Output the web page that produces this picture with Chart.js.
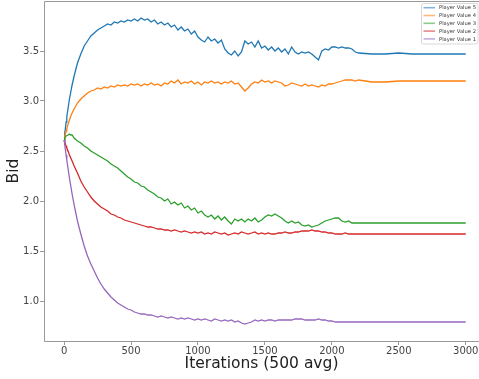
<!DOCTYPE html>
<html>
<head>
<meta charset="utf-8">
<script src="https://cdn.jsdelivr.net/npm/chart.js@4.4.1/dist/chart.umd.min.js"></script>
<style>
  html, body { margin: 0; padding: 0; background: #fff; overflow: hidden; }
  #wrap { width: 479px; height: 379px; }
</style>
</head>
<body>
<div id="wrap"><canvas id="bids" width="479" height="379"></canvas></div>
<script>
// Iteration index (x) shared by every series
const ITER = [0, 5, 10, 15, 20, 30, 40, 50, 60, 75,
  100, 125, 150, 175, 200, 225, 250, 275, 300, 325, 350, 375, 400, 425, 450, 475,
  500, 525, 550, 575, 600, 625, 650, 675, 700, 725, 750, 775, 800, 825, 850, 875,
  900, 925, 950, 975, 1000, 1025, 1050, 1075, 1100, 1125, 1150, 1175, 1200, 1225,
  1250, 1275, 1300, 1325, 1350, 1375, 1400, 1425, 1450, 1475, 1500, 1525, 1550,
  1575, 1600, 1625, 1650, 1675, 1700, 1725, 1750, 1775, 1800, 1825, 1850, 1875,
  1900, 1925, 1950, 1975, 2000, 2025, 2050, 2075, 2100, 2125, 2150, 2175, 2200,
  2300, 2400, 2500, 2600, 2700, 2800, 2900, 3000];

const value5 = [2.62, 2.68, 2.73, 2.79, 2.84, 2.93, 3.02, 3.09, 3.16, 3.25,
  3.38, 3.47, 3.55, 3.60, 3.65, 3.68, 3.71, 3.73, 3.75, 3.77, 3.76, 3.79, 3.78, 3.80, 3.79, 3.81,
  3.80, 3.82, 3.80, 3.83, 3.81, 3.82, 3.79, 3.81, 3.77, 3.79, 3.76, 3.78, 3.74, 3.76, 3.71, 3.74,
  3.70, 3.72, 3.67, 3.70, 3.64, 3.61, 3.59, 3.64, 3.60, 3.62, 3.58, 3.61, 3.52, 3.48,
  3.46, 3.50, 3.45, 3.49, 3.60, 3.57, 3.59, 3.54, 3.60, 3.53, 3.55, 3.51, 3.54,
  3.50, 3.53, 3.49, 3.52, 3.47, 3.54, 3.49, 3.47, 3.49, 3.48, 3.49, 3.47, 3.44,
  3.41, 3.50, 3.52, 3.51, 3.54, 3.54, 3.53, 3.54, 3.53, 3.53, 3.52, 3.49, 3.48,
  3.47, 3.47, 3.48, 3.47, 3.47, 3.47, 3.47, 3.47];

const value4 = [2.62, 2.65, 2.67, 2.70, 2.72, 2.77, 2.81, 2.85, 2.88, 2.92,
  2.98, 3.02, 3.05, 3.08, 3.10, 3.11, 3.13, 3.12, 3.14, 3.13, 3.15, 3.14, 3.16, 3.15, 3.16, 3.15,
  3.17, 3.16, 3.17, 3.15, 3.17, 3.16, 3.18, 3.16, 3.17, 3.15, 3.18, 3.17, 3.20, 3.18, 3.21, 3.17,
  3.19, 3.18, 3.20, 3.17, 3.19, 3.16, 3.19, 3.18, 3.20, 3.18, 3.19, 3.17, 3.19, 3.18,
  3.20, 3.17, 3.18, 3.14, 3.10, 3.13, 3.17, 3.19, 3.18, 3.21, 3.19, 3.20, 3.18,
  3.20, 3.19, 3.18, 3.15, 3.16, 3.18, 3.17, 3.16, 3.15, 3.17, 3.15, 3.16, 3.15,
  3.14, 3.16, 3.15, 3.17, 3.17, 3.18, 3.19, 3.20, 3.21, 3.21, 3.21, 3.20, 3.21,
  3.19, 3.19, 3.20, 3.20, 3.20, 3.20, 3.20, 3.20];

const value3 = [2.61, 2.63, 2.64, 2.65, 2.65, 2.66, 2.67, 2.66, 2.66, 2.63,
  2.60, 2.58, 2.55, 2.53, 2.50, 2.48, 2.46, 2.44, 2.42, 2.40, 2.37, 2.35, 2.33, 2.30, 2.27, 2.24,
  2.22, 2.19, 2.18, 2.15, 2.14, 2.11, 2.09, 2.07, 2.04, 2.03, 2.00, 2.02, 1.97, 1.99, 1.96, 1.98,
  1.93, 1.95, 1.91, 1.93, 1.88, 1.90, 1.86, 1.84, 1.86, 1.82, 1.85, 1.81, 1.84, 1.80,
  1.77, 1.82, 1.80, 1.82, 1.79, 1.82, 1.80, 1.83, 1.79, 1.81, 1.84, 1.86, 1.85,
  1.87, 1.85, 1.83, 1.80, 1.78, 1.80, 1.78, 1.79, 1.76, 1.75, 1.76, 1.74, 1.75,
  1.76, 1.78, 1.80, 1.81, 1.82, 1.83, 1.83, 1.80, 1.79, 1.80, 1.78, 1.78, 1.78,
  1.78, 1.78, 1.78, 1.78, 1.78, 1.78, 1.78, 1.78];

const value2 = [2.61, 2.59, 2.57, 2.55, 2.53, 2.50, 2.46, 2.43, 2.40, 2.35,
  2.28, 2.20, 2.14, 2.09, 2.04, 2.00, 1.97, 1.94, 1.92, 1.90, 1.87, 1.86, 1.84, 1.83, 1.81, 1.80,
  1.79, 1.78, 1.77, 1.76, 1.75, 1.74, 1.74, 1.73, 1.72, 1.72, 1.71, 1.71, 1.70, 1.71, 1.70, 1.69,
  1.70, 1.69, 1.68, 1.69, 1.68, 1.69, 1.67, 1.68, 1.67, 1.69, 1.68, 1.67, 1.68, 1.66,
  1.67, 1.68, 1.67, 1.69, 1.68, 1.67, 1.68, 1.69, 1.67, 1.68, 1.67, 1.68, 1.67,
  1.67, 1.68, 1.68, 1.69, 1.68, 1.68, 1.69, 1.69, 1.70, 1.70, 1.70, 1.71, 1.70,
  1.70, 1.69, 1.69, 1.68, 1.68, 1.67, 1.67, 1.67, 1.68, 1.67, 1.67, 1.67, 1.67,
  1.67, 1.67, 1.67, 1.67, 1.67, 1.67, 1.67, 1.67];

const value1 = [2.61, 2.56, 2.51, 2.46, 2.41, 2.32, 2.23, 2.15, 2.07, 1.96,
  1.80, 1.67, 1.55, 1.45, 1.37, 1.30, 1.23, 1.17, 1.12, 1.08, 1.04, 1.01, 0.98, 0.96, 0.94, 0.92,
  0.91, 0.89, 0.88, 0.87, 0.87, 0.86, 0.86, 0.85, 0.84, 0.85, 0.84, 0.83, 0.84, 0.83, 0.82, 0.83,
  0.82, 0.83, 0.82, 0.81, 0.82, 0.81, 0.82, 0.81, 0.80, 0.82, 0.81, 0.80, 0.81, 0.80,
  0.81, 0.79, 0.80, 0.78, 0.77, 0.78, 0.79, 0.81, 0.80, 0.81, 0.80, 0.81, 0.81,
  0.80, 0.81, 0.81, 0.81, 0.81, 0.81, 0.82, 0.82, 0.82, 0.81, 0.81, 0.81, 0.81,
  0.82, 0.81, 0.81, 0.80, 0.80, 0.79, 0.79, 0.79, 0.79, 0.79, 0.79, 0.79, 0.79,
  0.79, 0.79, 0.79, 0.79, 0.79, 0.79, 0.79, 0.79];

const labels = ['Player Value 5', 'Player Value 4', 'Player Value 3', 'Player Value 2', 'Player Value 1'];
const colors = ['#1f77b4', '#ff7f0e', '#2ca02c', '#d62728', '#9467bd'];
const series = [value5, value4, value3, value2, value1];

const XTICKS = [0, 500, 1000, 1500, 2000, 2500, 3000];
const YTICKS = [1.0, 1.5, 2.0, 2.5, 3.0, 3.5];

const FONT = '"DejaVu Sans", sans-serif';

// spines (top, left, bottom; the right one falls past the window edge) and the legend
const framePlugin = {
    id: 'frame',
    afterDraw(chart) {
        const { ctx, chartArea: a } = chart;
        const l = Math.round(a.left) + 0.5, t = Math.round(a.top) + 0.5, b = Math.round(a.bottom) + 0.5;
        ctx.save();
        ctx.strokeStyle = '#999';
        ctx.lineWidth = 1;
        ctx.beginPath();
        ctx.moveTo(a.right + 2, t);
        ctx.lineTo(l, t);
        ctx.lineTo(l, b);
        ctx.lineTo(a.right + 2, b);
        ctx.stroke();

        // legend
        const bx = 421.5, by = 3.5, bw = 56.5, bh = 40.5;
        ctx.fillStyle = 'rgba(255,255,255,0.8)';
        ctx.strokeStyle = '#d8d8d8';
        ctx.beginPath();
        ctx.roundRect(bx, by, bw, bh, 2);
        ctx.fill();
        ctx.stroke();
        ctx.font = '5.2px ' + FONT;
        ctx.textBaseline = 'middle';
        chart.data.datasets.forEach(function (ds, i) {
            const y = 7.7 + i * 7.8;
            ctx.strokeStyle = ds.borderColor;
            ctx.globalAlpha = 0.55;
            ctx.lineWidth = 1.6;
            ctx.beginPath();
            ctx.moveTo(423.5, y);
            ctx.lineTo(435, y);
            ctx.stroke();
            ctx.globalAlpha = 1;
            ctx.fillStyle = '#333';
            ctx.fillText(ds.label, 439, y + 0.3);
        });
        ctx.restore();
    }
};

const ctx = document.getElementById('bids').getContext('2d');
new Chart(ctx, {
    type: 'line',
    data: {
        datasets: series.map(function (vals, i) {
            return {
                label: labels[i],
                data: ITER.map(function (it, k) { return { x: it, y: vals[k] }; }),
                borderColor: colors[i],
                borderWidth: 1.3,
                pointRadius: 0,
                tension: 0,
                fill: false,
                order: 5 - i
            };
        })
    },
    options: {
        responsive: false,
        devicePixelRatio: 1,
        animation: false,
        layout: { padding: { top: 1, right: 0, bottom: 0, left: 0 } },
        plugins: {
            legend: { display: false },
            tooltip: { enabled: false }
        },
        scales: {
            x: {
                type: 'linear',
                min: -150,
                max: 3099,
                afterBuildTicks: function (scale) { scale.ticks = XTICKS.map(v => ({ value: v })); },
                afterFit: function (scale) {
                    scale.height = 38;
                    scale.paddingLeft = 0;
                    scale.paddingRight = 0;
                },
                border: { display: false },
                grid: { drawOnChartArea: false, color: '#999', tickLength: 4 },
                ticks: {
                    color: '#444', padding: 0, maxRotation: 0, font: { family: FONT, size: 10 },
                    callback: function (v) { return String(v); }
                },
                title: {
                    display: true,
                    text: 'Iterations (500 avg)',
                    color: '#222',
                    padding: { top: 0, bottom: 6 },
                    font: { family: FONT, size: 15.5 }
                }
            },
            y: {
                min: 0.6,
                max: 4.0,
                afterBuildTicks: function (scale) { scale.ticks = YTICKS.map(v => ({ value: v })); },
                afterFit: function (scale) {
                    scale.width = 44;
                    scale.paddingTop = 0;
                    scale.paddingBottom = 0;
                },
                border: { display: false },
                grid: { drawOnChartArea: false, color: '#999', tickLength: 4 },
                ticks: {
                    color: '#444', padding: 1, font: { family: FONT, size: 10 },
                    callback: function (v) { return v.toFixed(1); }
                },
                title: {
                    display: true,
                    text: 'Bid',
                    color: '#222',
                    padding: { top: 5, bottom: 0 },
                    font: { family: FONT, size: 15.5 }
                }
            }
        }
    },
    plugins: [framePlugin]
});
</script>
</body>
</html>
